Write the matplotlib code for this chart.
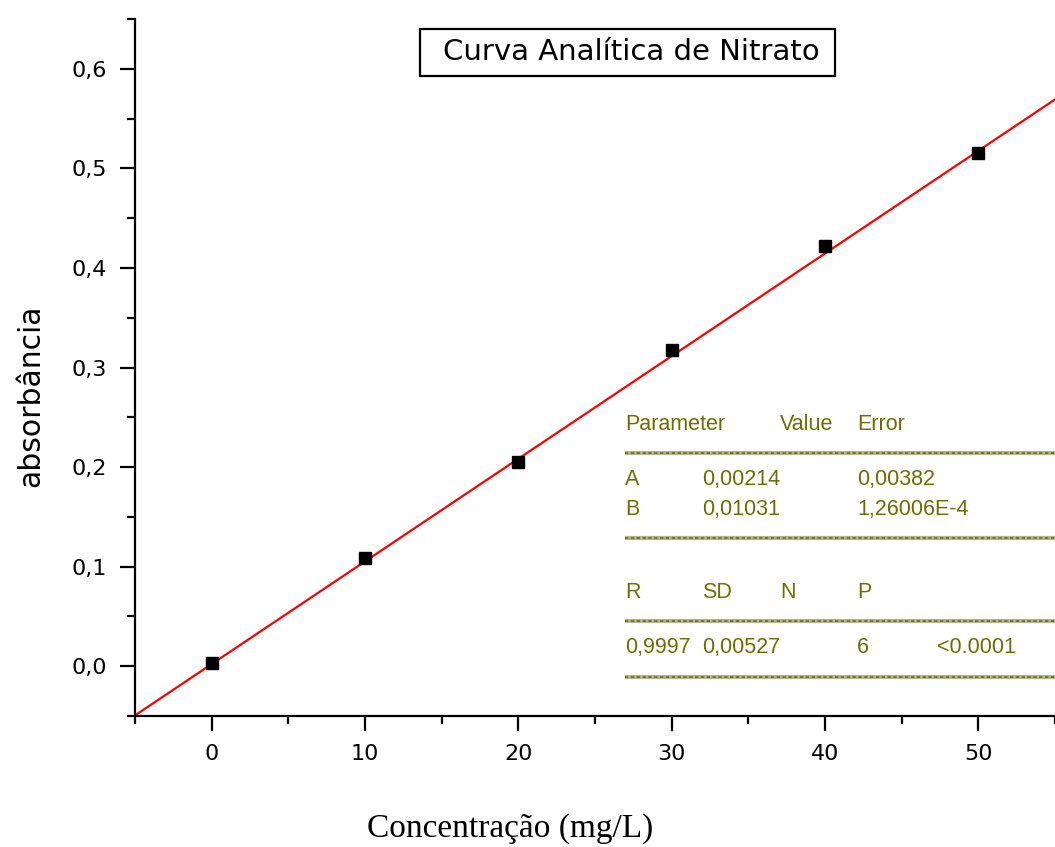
import numpy as np
import matplotlib.pyplot as plt
from matplotlib.ticker import MultipleLocator, FuncFormatter
from matplotlib.patches import Rectangle

# measured points
conc = np.array([0, 10, 20, 30, 40, 50])  # mg/L
absorb = np.array([0.003, 0.109, 0.205, 0.318, 0.422, 0.515])

# linear fit y = A + B*x, as reported in the table
A = 0.00214
B = 0.01031
fit_range = np.array([-5, 55])

# fit table text
param_header = ['Parameter', 'Value', 'Error']
param_rows = [['A', '0,00214', '0,00382'],
              ['B', '0,01031', '1,26006E-4']]
stat_header = ['R', 'SD', 'N', 'P']
stat_values = ['0,9997', '0,00527', '6', '<0.0001']

olive = '#6e6e00'

fig = plt.figure(figsize=(10.55, 8.47), dpi=100)
ax = fig.add_axes([135 / 1055, 1 - 716 / 847, 920 / 1055, 697 / 847])

ax.plot(fit_range, A + B * fit_range, color='red', lw=1.6, zorder=2)
ax.plot(conc, absorb, 's', color='black', ms=9, zorder=3)

ax.set_xlim(-5, 55)
ax.set_ylim(-0.05, 0.65)
ax.set_xticks(conc)
ax.xaxis.set_minor_locator(MultipleLocator(5))
ax.yaxis.set_major_locator(MultipleLocator(0.1))
ax.yaxis.set_minor_locator(MultipleLocator(0.05))
ax.set_yticks(np.arange(0, 0.61, 0.1))
ax.yaxis.set_major_formatter(FuncFormatter(lambda v, p: f'{v:.1f}'.replace('.', ',')))

for s in ['top', 'right']:
    ax.spines[s].set_visible(False)
for s in ['left', 'bottom']:
    ax.spines[s].set_linewidth(1.6)
ax.tick_params(which='major', direction='out', length=11, width=1.6, pad=9, labelsize=16)
ax.tick_params(which='minor', direction='out', length=6, width=1.6)

ax.set_ylabel('absorbância', fontsize=21.5, family='DejaVu Sans')
ax.yaxis.set_label_coords(-0.098, 0.459)
ax.set_xlabel('Concentração (mg/L)', fontsize=24, family='Liberation Serif')
ax.xaxis.set_label_coords(0.4076, -0.139)

# title box
ax.add_patch(Rectangle((0.3098, 0.9182), 0.4511, 0.0675, transform=ax.transAxes,
                       fill=False, ec='black', lw=1.6, clip_on=False))
ax.text(0.3348, 0.9527, 'Curva Analítica de Nitrato', transform=ax.transAxes,
        fontsize=21, va='center', ha='left')

# fit results table
cols = [0.5326, 0.6163, 0.7011, 0.7848, 0.8717]
tkw = dict(transform=ax.transAxes, color=olive, fontsize=15.5, va='center',
           ha='left', family='Liberation Sans')
ax.text(cols[0], 0.4189, param_header[0], **tkw)
ax.text(cols[2], 0.4189, param_header[1], **tkw)
ax.text(cols[3], 0.4189, param_header[2], **tkw)
for row, yy in zip(param_rows, [0.3386, 0.2956]):
    ax.text(cols[0], yy, row[0], **tkw)
    ax.text(cols[1], yy, row[1], **tkw)
    ax.text(cols[3], yy, row[2], **tkw)
for txt, xx in zip(stat_header, cols[:4]):
    ax.text(xx, 0.1765, txt, **tkw)
for txt, xx in zip(stat_values, [cols[0], cols[1], cols[3], cols[4]]):
    ax.text(xx, 0.0976, txt, **tkw)

for yy in [0.3773, 0.2554, 0.1363, 0.0560]:
    ax.plot([0.5326, 1.0], [yy, yy], transform=ax.transAxes, color='#b4b49a',
            lw=3, solid_capstyle='butt', clip_on=False)
    ax.plot([0.5326, 1.0], [yy, yy], transform=ax.transAxes, color=olive,
            lw=1.2, dashes=(2, 1.5), clip_on=False)

fig.savefig('out.png', dpi=100)
